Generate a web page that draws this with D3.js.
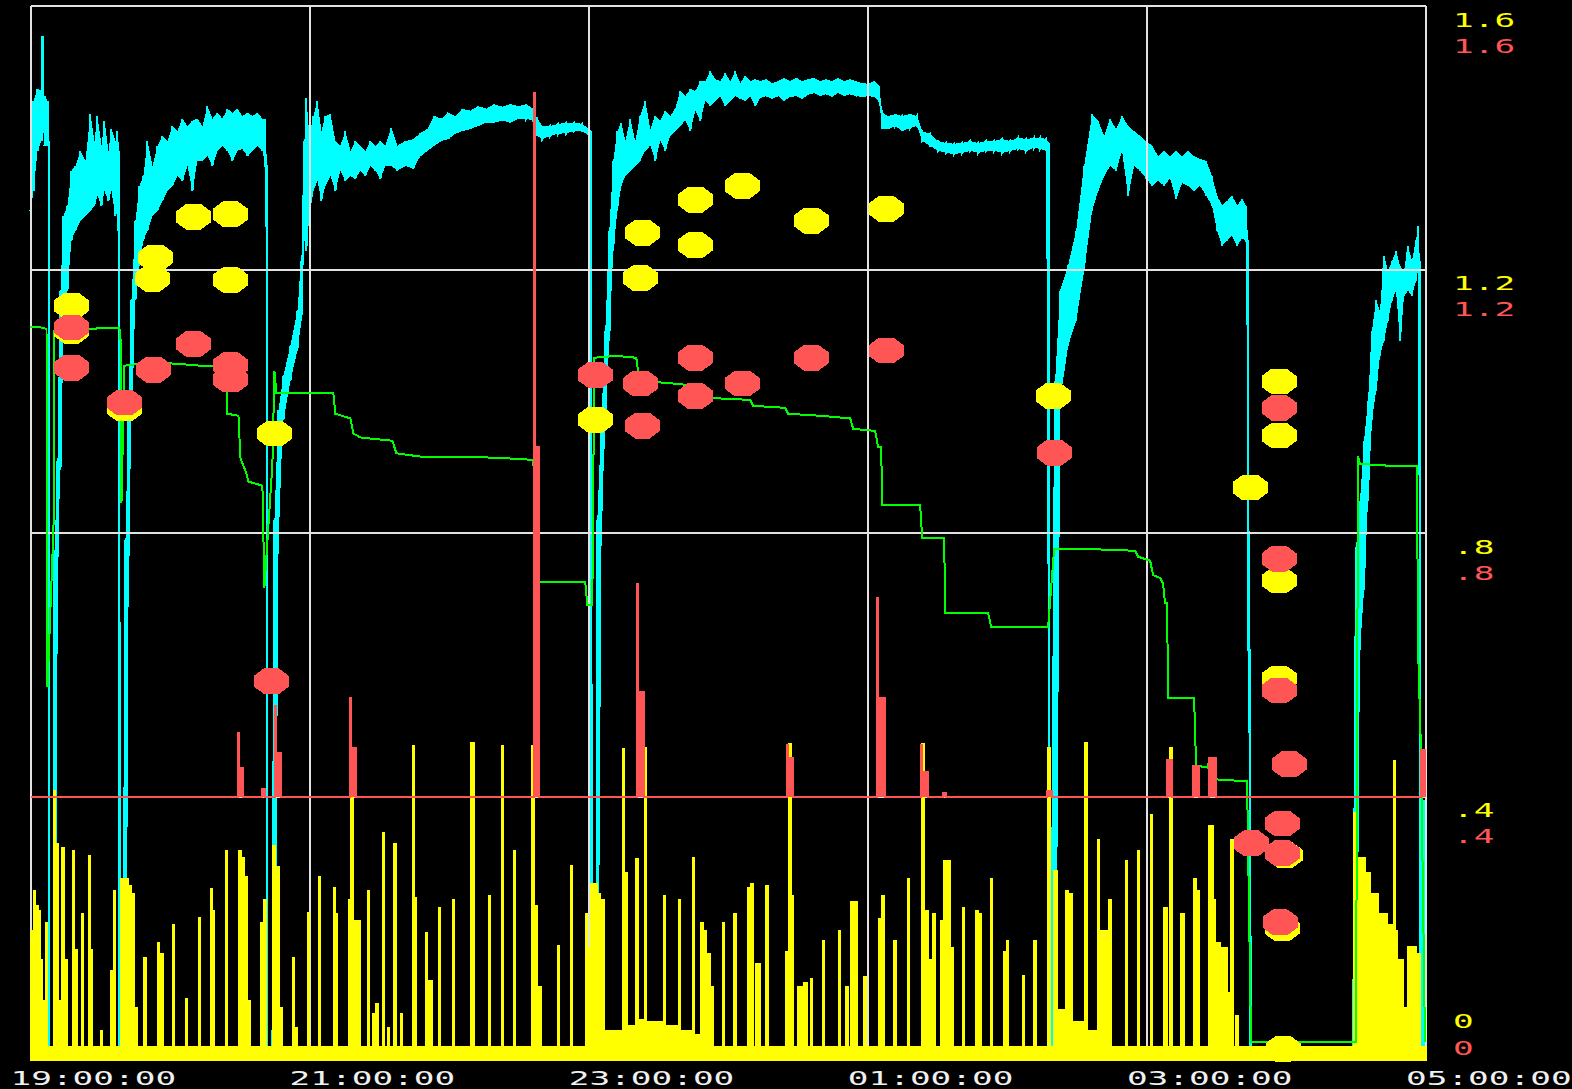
<!DOCTYPE html>
<html>
<head>
<meta charset="utf-8">
<script src="https://cdn.jsdelivr.net/npm/d3@7"></script>
<style>
  html, body { margin: 0; padding: 0; background: #000; }
  svg { display: block; shape-rendering: crispEdges; }
  text { font-family: "DejaVu Sans Mono", monospace; font-size: 20px; }
</style>
</head>
<body>
<svg id="chart" width="1572" height="1089"></svg>
<script>
// Time is counted in minutes after 19:00.
const timeTicks  = [0, 120, 240, 360, 480, 600];
const timeLabels = ["19:00:00", "21:00:00", "23:00:00", "01:00:00", "03:00:00", "05:00:00"];
const valueTicks  = [0, 0.4, 0.8, 1.2, 1.6];
const valueLabels = ["0", ".4", ".8", "1.2", "1.6"];

// Cyan signal, summarised per sample as [minute, high, low].
const cyanBand = [
[0,1.433,1.289],[1.29,1.456,1.319],[3.01,1.474,1.380],[4.73,1.471,1.395],[5.16,1.554,1.426],[6.02,1.463,1.388],[7.31,1.456,1.388],[7.95,1.395,0.005],[8.60,0.015,0],[9.89,0.015,0],
[10.32,0.773,0],[11.60,0.910,0.758],[12.89,1.168,0.895],[14.18,1.281,1.153],[15.90,1.297,1.168],[17.62,1.350,1.244],[19.34,1.357,1.259],[21.49,1.380,1.274],[23.64,1.365,1.281],[25.79,1.436,1.289],
[27.51,1.395,1.297],[28.80,1.433,1.312],[30.52,1.388,1.297],[31.81,1.426,1.319],[33.52,1.380,1.304],[34.81,1.413,1.319],[36.53,1.395,1.281],[37.39,1.410,1.289],[38.25,1.380,0.005],[39.11,0.015,0],
[39.97,0.015,0],[40.83,0.789,0],[42.12,1.001,0.758],[43.41,1.153,0.971],[45.13,1.274,1.153],[46.85,1.327,1.206],[48.57,1.342,1.244],[50.29,1.395,1.259],[52.44,1.357,1.281],[54.58,1.388,1.289],
[56.73,1.403,1.304],[58.88,1.395,1.319],[61.03,1.418,1.327],[63.18,1.410,1.342],[65.33,1.429,1.335],[67.48,1.418,1.357],[69.63,1.426,1.319],[71.78,1.429,1.365],[73.93,1.418,1.365],[76.07,1.448,1.372],
[78.22,1.429,1.357],[80.37,1.438,1.380],[82.52,1.429,1.388],[84.67,1.444,1.380],[86.82,1.438,1.365],[88.97,1.444,1.380],[91.12,1.433,1.383],[93.27,1.438,1.372],[95.42,1.433,1.380],[97.56,1.438,1.388],
[99.71,1.429,1.380],[101.00,1.429,1.357],[101.65,1.357,0.005],[102.29,0.015,0],[104.01,0.015,0],[104.87,0.819,0],[106.59,0.986,0.819],[108.74,1.039,0.971],[111.75,1.084,1.031],[114.76,1.137,1.077],
[116.48,1.213,1.122],[117.77,1.395,1.244],[118.62,1.460,1.228],[119.91,1.403,1.281],[121.63,1.433,1.319],[123.35,1.456,1.335],[125.07,1.410,1.304],[126.79,1.433,1.327],[128.94,1.436,1.342],[131.09,1.395,1.319],
[133.24,1.388,1.350],[135.39,1.410,1.335],[137.54,1.380,1.342],[139.69,1.395,1.338],[141.83,1.388,1.350],[143.98,1.380,1.342],[146.13,1.395,1.357],[148.28,1.388,1.350],[150.43,1.395,1.338],[152.58,1.388,1.357],
[155.16,1.415,1.357],[157.74,1.388,1.350],[161.18,1.395,1.357],[164.61,1.398,1.353],[167.62,1.407,1.372],[170.63,1.413,1.380],[173.64,1.433,1.388],[176.65,1.429,1.395],[179.66,1.438,1.398],[182.67,1.433,1.406],
[185.67,1.444,1.410],[189.11,1.441,1.413],[192.55,1.448,1.418],[195.99,1.444,1.423],[199.43,1.451,1.423],[202.87,1.447,1.426],[206.30,1.451,1.423],[209.74,1.448,1.429],[213.18,1.451,1.429],[216.19,1.444,1.426],
[217.91,1.429,1.403],[220.06,1.418,1.398],[223.50,1.418,1.403],[226.93,1.421,1.406],[230.37,1.423,1.407],[233.81,1.423,1.410],[237.25,1.421,1.410],[240.26,1.413,1.403],[241.12,1.410,0.005],[241.98,0.015,0],
[243.27,0.015,0],[243.70,0.819,0],[245.42,0.971,0.819],[247.14,1.107,0.955],[248.85,1.259,1.092],[250.57,1.365,1.228],[252.29,1.410,1.289],[254.01,1.423,1.327],[255.73,1.395,1.342],[257.88,1.429,1.350],
[260.03,1.395,1.357],[262.18,1.433,1.365],[264.33,1.456,1.380],[266.48,1.413,1.388],[268.63,1.433,1.365],[270.77,1.426,1.395],[272.92,1.441,1.380],[275.07,1.433,1.403],[277.22,1.444,1.410],[279.37,1.471,1.418],
[281.52,1.463,1.426],[283.67,1.474,1.410],[285.82,1.471,1.441],[287.97,1.486,1.426],[290.11,1.486,1.456],[292.26,1.501,1.448],[294.41,1.489,1.456],[296.56,1.486,1.463],[298.71,1.498,1.448],[300.86,1.486,1.456],
[303.01,1.501,1.463],[305.16,1.483,1.459],[307.31,1.494,1.456],[309.46,1.486,1.463],[311.61,1.489,1.448],[313.75,1.486,1.460],[316.33,1.489,1.463],[318.91,1.483,1.459],[321.49,1.486,1.463],[324.07,1.491,1.456],
[326.65,1.486,1.462],[329.23,1.491,1.463],[331.81,1.486,1.459],[334.38,1.489,1.465],[336.96,1.491,1.468],[339.54,1.486,1.463],[342.12,1.489,1.466],[344.70,1.486,1.462],[347.28,1.491,1.468],[349.86,1.486,1.463],
[352.44,1.489,1.466],[355.01,1.486,1.463],[357.59,1.483,1.462],[360.17,1.482,1.463],[362.75,1.486,1.462],[364.90,1.479,1.456],[366.19,1.438,1.413],[368.77,1.433,1.413],[371.78,1.436,1.418],[374.79,1.433,1.410],
[378.22,1.436,1.415],[381.23,1.433,1.418],[383.38,1.410,1.395],[386.82,1.406,1.388],[390.26,1.395,1.380],[393.70,1.392,1.377],[397.14,1.391,1.375],[400.57,1.392,1.377],[404.01,1.395,1.380],[407.45,1.392,1.377],
[410.89,1.395,1.380],[414.33,1.395,1.380],[417.77,1.398,1.377],[421.20,1.395,1.380],[424.64,1.400,1.383],[428.08,1.398,1.380],[431.52,1.400,1.385],[434.10,1.400,1.383],[436.68,1.398,1.380],[437.97,1.392,0.005],
[438.83,0.015,0],[440.55,1.031,0],[442.69,1.168,1.001],[446.13,1.206,1.084],[449.57,1.259,1.122],[453.01,1.357,1.198],[456.45,1.436,1.289],[459.03,1.426,1.319],[461.61,1.403,1.342],[464.18,1.429,1.357],
[466.76,1.413,1.350],[469.34,1.433,1.380],[471.92,1.418,1.312],[474.50,1.410,1.357],[477.08,1.403,1.350],[479.66,1.395,1.338],[482.24,1.388,1.327],[484.82,1.372,1.335],[487.40,1.380,1.327],[489.97,1.372,1.338],
[492.55,1.380,1.307],[495.13,1.372,1.331],[497.71,1.380,1.327],[500.29,1.372,1.319],[502.87,1.368,1.327],[505.45,1.365,1.312],[508.03,1.342,1.297],[510.18,1.312,1.259],[512.33,1.297,1.236],[514.48,1.304,1.244],
[516.63,1.312,1.251],[518.78,1.297,1.236],[520.93,1.307,1.247],[522.65,1.297,1.244],[523.51,1.244,0.622],[524.37,0.622,0.005],[525.23,0.008,0],[568.63,0.008,0],[569.92,0.778,0],[571.64,0.849,0.622],
[573.36,0.940,0.713],[575.07,1.001,0.849],[576.79,1.107,0.971],[578.51,1.153,1.016],[580.23,1.137,1.069],[581.95,1.221,1.092],[583.67,1.198,1.122],[585.39,1.213,1.153],[587.11,1.228,1.168],[588.83,1.206,1.092],
[590.55,1.198,1.160],[592.26,1.236,1.168],[593.98,1.213,1.160],[595.70,1.244,1.183],[596.56,1.266,1.198],[597.42,1.213,0.005],[598.29,0.008,0],[598.72,0.394,0],[600,0.394,0]
];

// Green stepped level, [minute, value].
const greenLevel = [
[0,1.112],[3.44,1.113],[6.88,1.110],[7.31,0.566],[9.89,0.808],[10.32,1.107],[17.19,1.109],[25.79,1.110],[37.82,1.112],[38.68,1.107],
[39.11,0.845],[40.40,1.054],[51.58,1.059],[62.32,1.057],[73.07,1.054],[83.81,1.054],[84.67,0.981],[89.40,0.978],[90.26,0.914],[92.84,0.890],
[93.70,0.878],[99.71,0.872],[100.57,0.717],[104.01,0.905],[104.87,1.046],[105.73,1.013],[116.05,1.013],[130.23,1.012],[131.09,0.981],[137.54,0.974],
[138.83,0.951],[141.83,0.945],[155.59,0.940],[157.31,0.921],[167.62,0.916],[184.81,0.916],[202.01,0.914],[216.19,0.911],[217.91,0.725],[227.79,0.726],
[238.54,0.725],[239.40,0.690],[241.55,0.690],[242.41,1.066],[251.43,1.069],[260.46,1.066],[261.75,1.031],[272.92,1.028],[284.96,1.024],[286.68,1.016],
[292.26,1.005],[309.46,1.002],[310.75,0.993],[324.50,0.990],[325.79,0.981],[339.54,0.978],[352.44,0.974],[353.72,0.958],[363.18,0.955],[364.47,0.930],
[365.76,0.930],[366.19,0.842],[382.52,0.842],[383.38,0.793],[392.84,0.793],[393.27,0.679],[411.75,0.678],[413.04,0.658],[437.54,0.657],[440.12,0.776],
[459.89,0.775],[474.93,0.773],[476.22,0.764],[481.38,0.758],[482.67,0.736],[485.67,0.732],[486.96,0.723],[487.82,0.693],[488.68,0.693],[489.11,0.550],
[500.29,0.550],[501.15,0.447],[505.87,0.444],[506.73,0.452],[508.45,0.449],[509.74,0.426],[523.07,0.423],[523.93,0.223],[524.79,0.027],[569.92,0.027],
[570.78,0.917],[571.64,0.905],[584.53,0.902],[596.13,0.902],[596.56,0.629],[597.85,0.470],[599.57,0.027]
];

// Red level, held until the next entry: [minute, value]. It rests at 0.4.
const redBase = 0.4;
const redLevel = [
[0,0.4],[89.40,0.496],[89.83,0.444],[91.55,0.4],[99.71,0.412],[101.00,0.4],[105.30,0.538],[105.73,0.466],[107.88,0.4],
[137.54,0.549],[137.97,0.473],[140.11,0.4],[216.62,1.468],[217.05,0.930],[218.77,0.4],[260.89,0.723],[261.32,0.558],[263.90,0.4],
[325.36,0.478],[325.79,0.459],[327.94,0.4],[364.04,0.702],[364.47,0.549],[367.48,0.4],[382.95,0.478],[383.38,0.437],[385.96,0.4],
[392.41,0.406],[393.70,0.4],[437.11,0.409],[439.26,0.4],[488.68,0.455],[490.83,0.4],[499.86,0.447],[502.44,0.4],
[506.73,0.458],[509.74,0.4],[597.85,0.470],[600,0.470]
];

// Yellow bursts above its resting floor: [start minute, end minute, value].
const yellowFloor = 0.02;
const yellowBursts = [
[0.00,1.29,0.197],[1.29,2.15,0.258],[2.15,3.44,0.235],[3.44,4.30,0.227],[4.30,5.16,0.152],[5.16,6.02,0.091],[6.45,7.31,0.208],
[9.89,10.75,0.409],[10.75,12.03,0.329],[12.03,13.32,0.091],[13.32,14.61,0.322],[14.61,15.90,0.152],[18.05,18.91,0.318],[18.91,20.20,0.167],
[21.92,22.78,0.223],[24.93,25.79,0.311],[25.79,26.65,0.167],[30.09,30.95,0.045],[34.38,35.24,0.136],[35.67,36.53,0.258],
[38.68,42.12,0.276],[42.12,43.41,0.265],[43.41,44.70,0.253],[44.70,45.99,0.079],[48.57,49.86,0.155],[54.58,55.44,0.179],[55.44,57.16,0.162],
[61.03,61.89,0.205],[66.62,67.48,0.094],[72.21,73.07,0.217],[77.36,78.22,0.261],[78.22,79.08,0.227],[83.81,84.67,0.318],
[89.40,90.69,0.318],[90.69,91.98,0.308],[91.98,93.27,0.278],[93.27,94.56,0.091],[98.85,100.14,0.208],[100.14,101.43,0.243],
[104.01,105.30,0.326],[105.30,107.02,0.293],[107.02,108.31,0.080],[112.61,113.47,0.156],[113.90,114.76,0.049],[119.05,119.91,0.224],
[123.78,124.64,0.278],[130.23,131.09,0.262],[131.09,131.95,0.223],[136.68,137.54,0.243],[137.54,138.83,0.455],[138.83,141.83,0.212],
[144.84,145.70,0.258],[146.99,148.28,0.071],[148.28,149.57,0.086],[151.29,152.15,0.346],[153.44,154.30,0.050],[156.02,157.31,0.329],
[159.03,159.89,0.071],[164.18,165.04,0.478],[165.04,165.90,0.247],[169.77,170.63,0.193],[170.63,172.78,0.121],[175.36,176.22,0.232],
[181.38,182.24,0.243],[189.11,190.83,0.482],[196.85,197.71,0.250],[202.44,203.30,0.478],[207.59,208.45,0.318],[215.33,216.62,0.478],
[216.62,217.91,0.235],[217.91,219.63,0.111],[226.50,227.36,0.174],[232.09,232.95,0.296],[238.54,239.40,0.223],[239.40,240.69,0.171],
[240.69,243.70,0.268],[243.70,244.99,0.253],[244.99,246.71,0.243],[246.71,254.44,0.045],[254.44,255.30,0.473],[255.30,256.59,0.285],
[256.59,260.03,0.053],[260.03,261.32,0.306],[261.32,263.90,0.061],[263.90,264.76,0.475],[264.76,272.06,0.058],[272.06,272.92,0.250],
[272.92,278.51,0.053],[278.51,279.37,0.243],[279.37,284.53,0.045],[284.53,285.39,0.308],[285.39,287.97,0.038],[287.97,289.26,0.209],
[289.26,290.55,0.197],[290.55,292.26,0.162],[292.26,293.55,0.111],[297.42,298.28,0.209],[302.15,303.44,0.223],[308.17,309.46,0.262],
[309.46,310.75,0.268],[311.61,313.75,0.147],[315.90,317.19,0.265],[324.50,325.79,0.164],[325.79,327.08,0.481],[327.08,327.94,0.250],
[329.66,332.24,0.111],[332.24,333.95,0.118],[335.24,336.10,0.124],[340.40,341.26,0.182],[347.28,348.14,0.197],[350.29,351.58,0.111],
[352.44,355.45,0.240],[358.03,359.32,0.126],[364.47,365.76,0.215],[365.76,367.05,0.250],[370.92,372.21,0.182],[376.93,377.79,0.276],
[382.95,384.24,0.481],[384.24,385.96,0.227],[385.96,387.25,0.152],[387.68,388.97,0.223],[391.12,392.41,0.212],[392.41,395.42,0.303],
[395.42,396.71,0.171],[400.57,401.43,0.232],[406.16,407.45,0.227],[407.45,408.74,0.223],[412.61,413.47,0.276],[418.20,419.49,0.164],
[419.49,420.34,0.182],[426.37,427.23,0.129],[431.09,432.38,0.182],[437.11,438.40,0.475],[439.69,441.41,0.288],[441.41,444.84,0.076],
[444.84,446.13,0.258],[446.13,447.85,0.253],[447.85,453.01,0.058],[453.01,454.30,0.482],[454.30,458.60,0.045],[458.60,459.46,0.334],
[459.46,462.89,0.197],[463.32,464.61,0.243],[470.63,471.49,0.303],[475.79,476.65,0.318],[481.38,482.24,0.372],[486.96,488.68,0.232],
[489.54,490.83,0.475],[494.27,495.99,0.223],[499.86,501.15,0.276],[501.15,502.44,0.258],[506.30,508.45,0.356],[508.45,509.31,0.243],
[509.31,511.46,0.179],[511.46,514.47,0.171],[514.47,515.76,0.102],[515.76,517.05,0.334],[517.91,519.20,0.068],
[568.63,570.35,0.375],[570.35,573.79,0.308],[573.79,575.93,0.284],[575.93,579.37,0.253],[579.37,583.24,0.223],[583.24,585.82,0.205],
[585.82,586.68,0.455],[586.68,587.54,0.197],[587.54,590.12,0.152],[590.12,591.84,0.080],[591.84,596.13,0.173],[596.56,597.85,0.162]
];

// Spot readings, [minute, value].
const yellowMarks = [
[17.62,1.145],[17.62,1.107],[40.40,0.989],[53.73,1.218],[52.44,1.186],[70.06,1.280],[85.96,1.284],[85.96,1.184],[104.87,0.951],
[242.84,0.972],[263.04,1.256],[262.18,1.187],[285.82,1.306],[285.82,1.237],[306.02,1.327],[335.67,1.274],[367.91,1.292],
[439.69,1.008],[536.82,1.030],[536.82,0.948],[524.37,0.869],[536.82,0.728],[536.82,0.579],[539.40,0.311],[538.11,0.200],[538.54,0.017]
];
const redMarks = [
[17.62,1.112],[17.62,1.051],[40.40,0.998],[52.87,1.048],[70.06,1.087],[85.96,1.055],[85.96,1.033],[103.58,0.575],
[242.84,1.040],[262.18,1.027],[263.04,0.963],[285.82,1.066],[285.82,1.008],[306.02,1.027],[335.67,1.066],[367.91,1.077],
[440.12,0.922],[536.82,0.990],[536.82,0.761],[536.82,0.561],[541.12,0.449],[524.79,0.329],[538.11,0.359],[538.11,0.314],[537.25,0.209]
];

const COLORS = { cyan: "#00ffff", green: "#00ff00", yellow: "#ffff00", red: "#ff5555", grid: "#e2e2e2", text: "#f0f0f0" };

const svg = d3.select("#chart");
svg.append("rect").attr("width", 1572).attr("height", 1089).attr("fill", "#000");

const x = d3.scaleLinear().domain([0, 600]).range([30.5, 1426]);
const y = d3.scaleLinear().domain([0, 1.6]).range([1060, 6]);

// Cyan: filled envelope plus a high/low zig-zag trace
svg.append("path")
  .datum(cyanBand)
  .attr("fill", COLORS.cyan)
  .attr("d", d3.area().x(d => x(d[0])).y0(d => y(d[2])).y1(d => y(d[1])));
const zig = cyanBand.flatMap(d => [[d[0], d[1]], [d[0], d[2]]]);
svg.append("path")
  .datum(zig)
  .attr("fill", "none")
  .attr("stroke", COLORS.cyan)
  .attr("stroke-width", 2)
  .attr("d", d3.line().x(d => x(d[0])).y(d => y(d[1])));

// Grid and frame
const grid = svg.append("g").attr("stroke", COLORS.grid).attr("stroke-width", 2);
grid.selectAll(".gx").data(timeTicks).join("line")
  .attr("x1", d => x(d)).attr("x2", d => x(d))
  .attr("y1", y(0)).attr("y2", y(1.6));
grid.selectAll(".gy").data(valueTicks).join("line")
  .attr("x1", x(0)).attr("x2", x(600))
  .attr("y1", d => y(d)).attr("y2", d => y(d));

// Yellow: resting floor with bursts, drawn as a stepped filled trace
const yellowSeries = [[0, yellowFloor]];
yellowBursts.forEach(([t0, t1, v]) => { yellowSeries.push([t0, v], [t1, yellowFloor]); });
yellowSeries.push([600, yellowFloor]);
svg.append("path")
  .datum(yellowSeries)
  .attr("fill", COLORS.yellow)
  .attr("stroke", COLORS.yellow)
  .attr("stroke-width", 1)
  .attr("d", d3.area().x(d => x(d[0])).y0(y(0)).y1(d => y(d[1])).curve(d3.curveStepAfter));

// Green stepped level
svg.append("path")
  .datum(greenLevel)
  .attr("fill", "none")
  .attr("stroke", COLORS.green)
  .attr("stroke-width", 2)
  .attr("d", d3.line().x(d => x(d[0])).y(d => y(d[1])));

// Red level: filled excursions above its resting value, with the trace on top
svg.append("path")
  .datum(redLevel)
  .attr("fill", COLORS.red)
  .attr("d", d3.area().x(d => x(d[0])).y0(y(redBase)).y1(d => y(d[1])).curve(d3.curveStepAfter));
svg.append("path")
  .datum(redLevel)
  .attr("fill", "none")
  .attr("stroke", COLORS.red)
  .attr("stroke-width", 2)
  .attr("d", d3.line().x(d => x(d[0])).y(d => y(d[1])).curve(d3.curveStepAfter));

// Octagonal markers
const octagon = "M" + d3.range(8).map(i => {
  const a = Math.PI / 8 + i * Math.PI / 4;
  return [(19 * Math.cos(a)).toFixed(2), (14 * Math.sin(a)).toFixed(2)].join(",");
}).join("L") + "Z";
svg.append("g").selectAll("path").data(yellowMarks).join("path")
  .attr("d", octagon)
  .attr("transform", d => `translate(${x(d[0])},${y(d[1])})`)
  .attr("fill", COLORS.yellow);
svg.append("g").selectAll("path").data(redMarks).join("path")
  .attr("d", octagon)
  .attr("transform", d => `translate(${x(d[0])},${y(d[1])})`)
  .attr("fill", COLORS.red);

// Time labels under the plot
svg.append("g").selectAll("text").data(timeTicks).join("text")
  .attr("transform", d => `translate(${x(d) - 20},1085) scale(1.72,1)`)
  .attr("fill", COLORS.text)
  .text((d, i) => timeLabels[i]);

// Paired value labels on the right: yellow scale above, red scale below
const labelOffsets = v => v === 0 ? [-32, -5] : [20.5, 46.5];
const valueAxis = svg.append("g");
valueTicks.forEach((v, i) => {
  const [dy1, dy2] = labelOffsets(v);
  valueAxis.append("text")
    .attr("transform", `translate(1453,${y(v) + dy1}) scale(1.72,1)`)
    .attr("fill", COLORS.yellow).text(valueLabels[i]);
  valueAxis.append("text")
    .attr("transform", `translate(1453,${y(v) + dy2}) scale(1.72,1)`)
    .attr("fill", COLORS.red).text(valueLabels[i]);
});
</script>
</body>
</html>
